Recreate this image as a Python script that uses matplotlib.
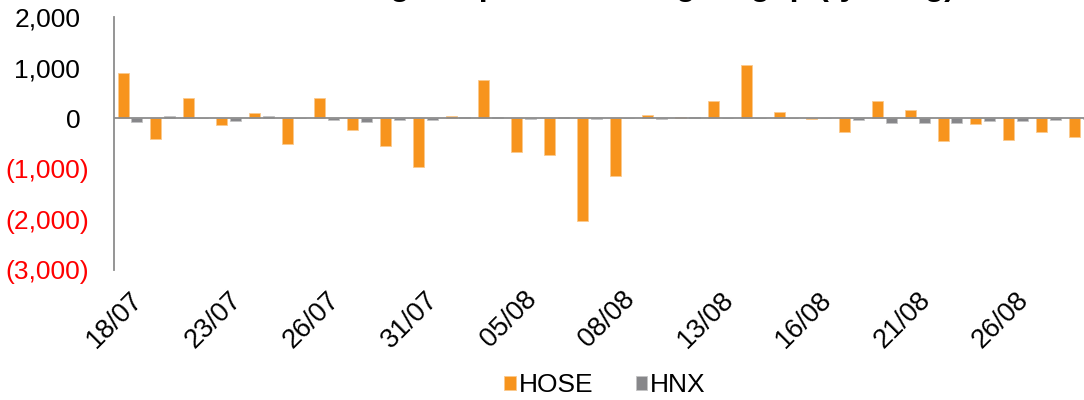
import numpy as np
import matplotlib.pyplot as plt

plt.rcParams['font.family'] = ['Liberation Sans', 'DejaVu Sans']

dates = ['18/07', '19/07', '22/07', '23/07', '24/07', '25/07', '26/07', '29/07', '30/07', '31/07',
         '01/08', '02/08', '05/08', '06/08', '07/08', '08/08', '09/08', '12/08', '13/08', '14/08',
         '15/08', '16/08', '19/08', '20/08', '21/08', '22/08', '23/08', '26/08', '27/08', '28/08']
hose = [900, -400, 400, -130, 110, -515, 400, -230, -545, -970,
        50, 765, -665, -720, -2040, -1135, 60, 25, 340, 1050,
        125, -10, -275, 340, 165, -450, -110, -435, -270, -365]
hnx = [-65, 40, 0, -45, 45, 0, -40, -80, -33, -33,
       25, 25, -10, 20, -5, 0, -20, 25, 0, 5,
       5, 0, -33, -100, -100, -85, -55, -55, -33, -20]
y_ticks = [2000, 1000, 0, -1000, -2000, -3000]
y_labels = ['2,000', '1,000', '0', '(1,000)', '(2,000)', '(3,000)']
title = 'Mua ròng khớp lệnh khối ngoại gộp (tỷ đồng)'

orange = '#f7941d'
grey = '#87878a'

x = np.arange(len(dates))
fig = plt.figure(figsize=(10.84, 4.0), dpi=100)
ax = fig.add_axes([113.6 / 1084, 1 - 269.8 / 400, 984 / 1084, (269.8 - 17.3) / 400])

ax.bar(x - 0.21, hose, width=0.335, color=orange, edgecolor='#fbc98e', linewidth=0.6, label='HOSE')
ax.bar(x + 0.21, hnx, width=0.335, color=grey, edgecolor='#c4c4c4', linewidth=0.6, label='HNX')
ax.axhline(0, color='#8c8c8c', linewidth=1.3, zorder=3)

ax.set_xlim(-0.5, len(dates) - 0.5)
ax.set_ylim(-3000, 2000)

for s in ['top', 'right', 'bottom']:
    ax.spines[s].set_visible(False)
ax.spines['left'].set_color('#8c8c8c')
ax.spines['left'].set_linewidth(1.3)

ax.set_yticks(y_ticks)
ax.set_yticklabels(y_labels, fontsize=19)
ax.tick_params(axis='y', length=0, pad=17.5)
# excel-style: positive numbers leave room for the closing bracket
for lab, v in zip(ax.get_yticklabels(), y_ticks):
    if v < 0:
        lab.set_color('red')
    else:
        lab.set_color('black')
        lab.set_transform(lab.get_transform() + plt.matplotlib.transforms.ScaledTranslation(-6.5 / 72, 0, fig.dpi_scale_trans))

ax.set_xticks(x[::3])
ax.set_xticklabels(dates[::3], fontsize=19.5, rotation=45, ha='right', va='top', rotation_mode='anchor')
ax.tick_params(axis='x', length=0, pad=12)

fig.legend(loc='center', bbox_to_anchor=(605 / 1084, 0.037), ncol=2, frameon=False, fontsize=19,
           handlelength=0.45, handleheight=0.45, handletextpad=0.1, columnspacing=1.6)

fig.text(955 / 1084, 1.013, title, ha='right', va='baseline', fontsize=23, fontweight='bold')

fig.savefig('out.png', dpi=100)
